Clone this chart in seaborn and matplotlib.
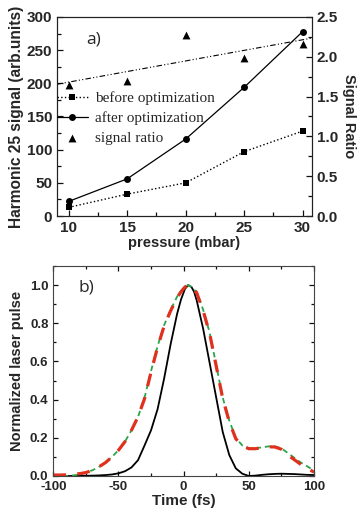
import numpy as np
import matplotlib
matplotlib.use("Agg")
import matplotlib.pyplot as plt
from matplotlib.ticker import MultipleLocator
from matplotlib.collections import PathCollection
import seaborn as sns

# ---- panel a: harmonic signal vs. gas pressure ----
pressure = [10, 15, 20, 25, 30]
before_opt = [13, 33, 50, 97, 128]
after_opt = [22, 56, 116, 194, 278]
signal_ratio = [1.64, 1.69, 2.27, 1.98, 2.16]

# ---- panel b: normalized laser pulse profiles ----
time_fs = [-100, -95, -90, -85, -80, -75, -70, -65, -60, -55, -50, -45, -40,
           -35, -30, -25, -20, -15, -10, -5, -2, 1, 3.5, 6, 8, 10, 15, 20, 25,
           30, 35, 40, 45, 50, 55, 60, 65, 70, 75, 80, 85, 90, 95, 100]
pulse_black = [0.0, 0.0, 0.0, 0.0, 0.001, 0.001, 0.002, 0.003, 0.005, 0.008,
               0.014, 0.025, 0.045, 0.083, 0.16, 0.24, 0.35, 0.51, 0.69, 0.85,
               0.925, 0.98, 1.0, 0.99, 0.965, 0.92, 0.77, 0.59, 0.41, 0.23,
               0.11, 0.04, 0.012, 0.0, 0.002, 0.006, 0.009, 0.011, 0.012,
               0.011, 0.01, 0.008, 0.006, 0.005]
pulse_red = [0.005, 0.005, 0.006, 0.008, 0.012, 0.018, 0.03, 0.048, 0.07, 0.1,
             0.135, 0.18, 0.24, 0.31, 0.405, 0.545, 0.675, 0.785, 0.865, 0.935,
             0.965, 0.99, 1.0, 0.99, 0.975, 0.96, 0.865, 0.745, 0.575, 0.405,
             0.285, 0.195, 0.158, 0.143, 0.143, 0.148, 0.153, 0.152, 0.14,
             0.11, 0.085, 0.06, 0.04, 0.02]
pulse_green = [0.0, 0.0, 0.0, 0.003, 0.008, 0.017, 0.03, 0.048, 0.07, 0.1,
               0.135, 0.18, 0.24, 0.31, 0.41, 0.55, 0.68, 0.79, 0.87, 0.94,
               0.97, 0.993, 1.0, 0.99, 0.975, 0.965, 0.87, 0.75, 0.58, 0.41,
               0.29, 0.2, 0.16, 0.145, 0.145, 0.15, 0.155, 0.155, 0.145, 0.12,
               0.095, 0.07, 0.05, 0.028]

sns.set_style("ticks")
plt.rcParams['font.family'] = ['Liberation Sans', 'DejaVu Sans']
plt.rcParams['axes.linewidth'] = 0.8

W, H = 361, 508
fig = plt.figure(figsize=(W / 100, H / 100), dpi=100)

TICK_KW = dict(which='both', direction='in', color='#111111', width=0.9)

# ================= panel a =================
ax1 = fig.add_axes([57 / W, (H - 216) / H, 255 / W, 199 / H])
ax2 = ax1.twinx()

sns.lineplot(x=pressure, y=before_opt, ax=ax1, color='black', linestyle=':',
             linewidth=1.0, marker='s', markersize=4.5, mec='black', mew=0,
             label='before optimization', legend=False)
sns.lineplot(x=pressure, y=after_opt, ax=ax1, color='black', linestyle='-',
             linewidth=0.9, marker='o', markersize=5, mec='black', mew=0,
             label='after optimization', legend=False)

# linear trend of the ratio across the full pressure window
xlim_a = (9.0, 30.8)
coef = np.polyfit(pressure, signal_ratio, 1)
trend_x = np.array(xlim_a)
sns.lineplot(x=trend_x, y=np.polyval(coef, trend_x), ax=ax2, color='black',
             linewidth=0.8, linestyle=(0, (5, 2, 1, 2, 1, 2)), legend=False)
sns.scatterplot(x=pressure, y=signal_ratio, ax=ax2, color='black', marker='^',
                s=32, linewidth=0, legend=False)

ax1.set_xlim(*xlim_a)
ax1.set_ylim(0, 300)
ax2.set_ylim(0, 2.5)
ax1.xaxis.set_major_locator(MultipleLocator(5))
ax1.xaxis.set_minor_locator(MultipleLocator(2.5))
ax1.yaxis.set_major_locator(MultipleLocator(50))
ax1.yaxis.set_minor_locator(MultipleLocator(25))
ax2.yaxis.set_major_locator(MultipleLocator(0.5))
ax2.yaxis.set_minor_locator(MultipleLocator(0.25))
ax1.tick_params(**TICK_KW, labelsize=11, top=False, right=False, left=True,
                bottom=True)
ax1.tick_params(which='major', length=4.5)
ax1.tick_params(which='minor', length=3)
ax2.tick_params(**TICK_KW, labelsize=11, right=True)
ax2.tick_params(which='major', length=4.5)
ax2.tick_params(which='minor', length=3)
for lab in ax1.get_xticklabels() + ax1.get_yticklabels() + ax2.get_yticklabels():
    lab.set_fontweight('bold')

ax1.set_xlabel('pressure (mbar)', fontsize=10.5, fontweight='bold', labelpad=1)
ax1.set_ylabel('Harmonic 25 signal (arb.units)', fontsize=11.2,
               fontweight='bold', labelpad=2)
ax2.set_ylabel('Signal Ratio', fontsize=10.5, fontweight='bold', rotation=270,
               labelpad=13)
for sp in list(ax1.spines.values()) + list(ax2.spines.values()):
    sp.set_color('#222222')

ax1.text(0.115, 0.885, 'a)', transform=ax1.transAxes, fontsize=12.5,
         family='Open Sans', ha='left', va='center')

tri = [c for c in ax2.collections if isinstance(c, PathCollection)][0]
handles = list(ax1.get_lines()[:2]) + [tri]
labels = ['before optimization', 'after optimization', 'signal ratio']
ax2.legend(handles, labels, loc='upper left', bbox_to_anchor=(0.0, 0.625),
           frameon=False, prop=dict(family='Liberation Serif', size=11),
           handlelength=2.0, handletextpad=0.5, labelspacing=0.4,
           borderaxespad=0, borderpad=0, scatterpoints=1)

# ================= panel b =================
axb = fig.add_axes([53.3 / W, (H - 476) / H, 260.7 / W, 210 / H])
sns.lineplot(x=time_fs, y=pulse_black, ax=axb, color='black', linewidth=1.3,
             legend=False)
sns.lineplot(x=time_fs, y=pulse_green, ax=axb, color='#2aa54a', linewidth=1.3,
             linestyle=(0, (3, 2.2)), legend=False)
sns.lineplot(x=time_fs, y=pulse_red, ax=axb, color='#e0301e', linewidth=2.3,
             linestyle=(0, (4, 3.5)), legend=False)

axb.set_xlim(-100, 100)
axb.set_ylim(0, 1.1)
axb.xaxis.set_major_locator(MultipleLocator(50))
axb.xaxis.set_minor_locator(MultipleLocator(25))
axb.yaxis.set_major_locator(MultipleLocator(0.2))
axb.yaxis.set_minor_locator(MultipleLocator(0.1))
axb.tick_params(**TICK_KW, labelsize=9.5, top=True, right=True, left=True,
                bottom=True)
axb.tick_params(which='major', length=3.5)
axb.tick_params(which='minor', length=2.5)
axb.set_xticks([-100, -50, 0, 50, 100])
axb.set_xticklabels(['-100', '-50', '0', '50', '100'])
for lab in axb.get_xticklabels() + axb.get_yticklabels():
    lab.set_fontweight('bold')
for sp in axb.spines.values():
    sp.set_color('#444444')

axb.set_xlabel('Time (fs)', fontsize=11, fontweight='bold', labelpad=1)
axb.set_ylabel('Normalized laser pulse', fontsize=10.5, fontweight='bold',
               labelpad=4)
axb.text(0.095, 0.9, 'b)', transform=axb.transAxes, fontsize=12.5,
         family='Open Sans', ha='left', va='center')

fig.savefig('out.png', dpi=100)
